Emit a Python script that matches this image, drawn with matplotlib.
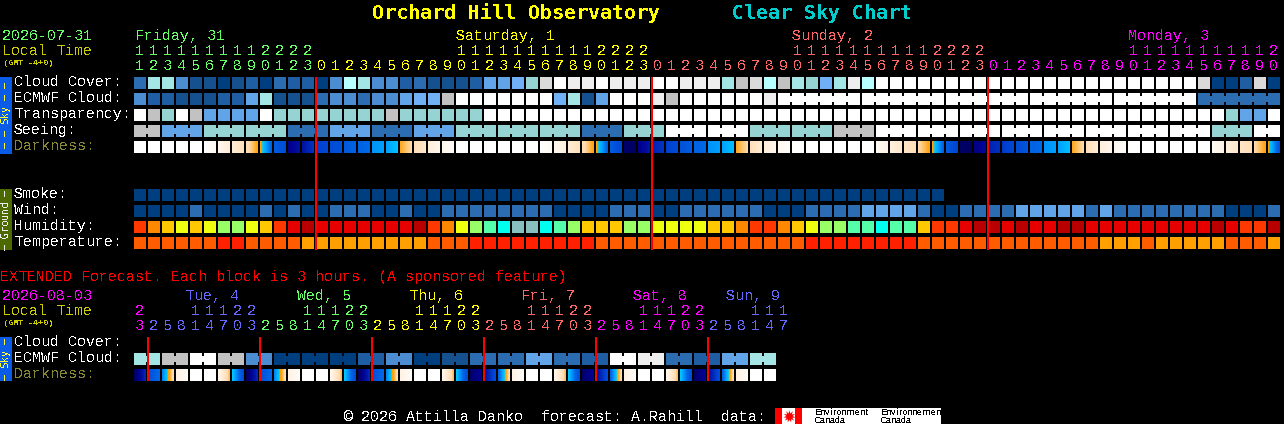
import matplotlib
matplotlib.use("Agg")
import matplotlib.pyplot as plt
from matplotlib.colors import LinearSegmentedColormap
import numpy as np

# pixel look for the text, the original is a bitmap font
plt.rcParams["text.antialiased"] = False
plt.rcParams["text.hinting"] = "auto"
plt.rcParams["text.hinting_factor"] = 1

# ---- forecast blocks, one value per hour ----
hours = [11,12,13,14,15,16,17,18,19,20,21,22,23,
         0,1,2,3,4,5,6,7,8,9,10,11,12,13,14,15,16,17,18,19,20,21,22,23,
         0,1,2,3,4,5,6,7,8,9,10,11,12,13,14,15,16,17,18,19,20,21,22,23,
         0,1,2,3,4,5,6,7,8,9,10,11,12,13,14,15,16,17,18,19,20]
hour_colors = ["day0"]*13 + ["day1"]*24 + ["day2"]*24 + ["day3"]*21
day_names = ["Friday, 31", "Saturday, 1", "Sunday, 2", "Monday, 3"]
day_keys = ["day0", "day1", "day2", "day3"]
day_label_x = [135, 456, 792, 1128]
midnight_cols = [13, 37, 61]

# cloud scale: 0 clear ... 13 overcast
cloud_cover = [10,5,5,9,12,12,13,12,11,13,10,11,11,13,9,4,5,9,9,11,10,
               12,12,12,11,8,8,7,6,2,0,1,1,0,1,1,1,0,0,1,1,1,5,3,2,4,3,5,6,7,5,1,
               4,0,0,0,0,0,0,0,0,0,0,0,0,0,0,0,0,0,0,0,0,0,0,0,2,13,13,11,2,13]
ecmwf_cloud = [9,11,11,12,12,12,11,11,8,5,12,12,12,10,9,9,10,9,9,8,7,
               7,3,0,0,0,0,0,0,0,7,5,12,8,0,0,0,1,3,0,0,0,0,0,0,1,
               0,0,0,0,0,0,0,0,0,0,0,0,0,0,0,0,0,0,0,0,0,0,0,0,0,0,0,0,0,0,
               10,10,10,10,10,10]
ecmwf_groups = [1]*46 + [6]*6
transparency = [0,3,6,0,3,8,8,8,8,0,6,6,6,6,6,6,6,6,3,6,6,6,6,6,6,
                0,0,0,0,0,0,0,0,0,0,0,0,0,0,0,0,0,0,0,0,0,0,0,0,0,0,0,0,0,0,0,0,
                0,0,0,0,0,0,0,0,0,0,0,0,0,0,0,0,0,0,0,0,0,6,8,8,0]
seeing = [3,8,6,6,10,8,10,8,6,6,6,10,6,0,0,6,6,3,0,0,0,0,0,0,0,0,6,0]
seeing_groups = [2] + [3]*26 + [2]

# darkness colour position at the left and right of each block
dark_start = [0,0,0,0,0,0,7,14,22,32,54,92,82,66,60,55,52,44,42,30,22,12,8,
              0,0,0,0,0,0,0,6,14,22,32,54,97,92,76,66,58,52,44,42,30,22,12,6,
              0,0,0,0,0,0,5,12,18,24,32,54,98,93,76,68,60,52,44,42,30,22,12,6,
              0,0,0,0,0,0,5,12,18,24,33]
dark_end = [0,0,0,0,0,6,13,20,31,52,60,82,70,62,58,52,50,42,37,24,16,8,3,
            0,0,0,0,0,0,5,12,20,31,52,62,100,80,70,60,54,50,42,37,24,14,8,2,
            0,0,0,0,0,0,10,16,22,31,52,64,100,86,72,62,56,50,42,37,24,14,8,2,
            0,0,0,0,0,0,10,16,22,31,56]

# ground rows
smoke = [13]*58 + [None]*24
wind = [13,13,13,13,10,13,13,13,13,10,13,10,13,13,10,10,10,13,13,10,13,
        13,10,10,10,10,10,10,10,10,13,13,13,13,10,10,10,13,13,10,10,10,10,10,10,13,13,13,
        10,10,10,10,8,8,8,8,10,13,13,10,10,10,10,8,8,8,8,8,10,8,10,10,10,10,10,10,10,10,13,13,13,10]
humidity = [3,4,5,6,5,6,7,7,6,5,3,2,1,2,2,2,2,2,2,2,1,
            3,4,6,7,8,9,10,10,9,8,7,5,5,5,7,7,6,6,6,6,5,5,4,3,3,4,5,6,7,7,8,
            8,9,8,8,5,3,3,2,1,1,2,1,2,2,1,1,2,2,2,2,2,2,2,2,2,1,2,3,3,1]
temperature = [1,1,1,1,1,1,0,0,1,1,1,1,2,2,2,2,2,2,2,2,2,
               1,1,1,0,0,0,0,0,0,0,0,0,1,1,1,1,1,1,1,1,1,1,1,1,1,1,1,0,0,0,0,
               0,0,0,0,1,1,1,1,1,1,1,1,1,1,1,1,1,2,2,2,1,2,2,2,2,2,1,1,1,2]

# ---- extended forecast, 3 hour blocks ----
ext_hours = [23,2,5,8,11,14,17,20,23,2,5,8,11,14,17,20,23,2,5,8,11,14,17,20,
             23,2,5,8,11,14,17,20,23,2,5,8,11,14,17,20,23,2,5,8,11,14,17]
ext_hour_colors = ["day3"] + ["ext0"]*8 + ["ext1"]*8 + ["ext2"]*8 + ["ext3"]*8 + ["ext4"]*8 + ["ext0"]*6
ext_day_names = ["Tue, 4", "Wed, 5", "Thu, 6", "Fri, 7", "Sat, 8", "Sun, 9"]
ext_day_keys = ["ext0", "ext1", "ext2", "ext3", "ext4", "ext0"]
ext_day_x = [185, 297, 409, 521, 633, 726]
ext_midnight_cols = [1, 9, 17, 25, 33, 41]
ext_ecmwf = [5,3,0,3,9,13,13,13,11,9,13,12,10,10,8,10,11,0,1,10,11,8,5]
ext_groups = [2]*23
ext_dark_start = [100,58,46,10,0,0,6,36, 100,58,46,10,0,0,6,36, 100,58,46,10,0,0,6,36,
                  98,84,52,10,0,0,6,36, 98,84,52,10,0,0,6,36, 98,84,52,10,0,0]
ext_dark_end = [74,50,22,3,0,0,28,60, 74,50,22,3,0,0,28,60, 74,50,22,3,0,0,28,60,
                88,60,22,3,0,0,28,60, 88,60,22,3,0,0,28,60, 88,60,22,3,0,0]

# ---- styles ----
cloud_pal = ["#FFFFFF","#EEEEEE","#DADADA","#C2C2C2","#B8FFFF","#A4E6E6","#96D4D4",
             "#70B0F5","#62A4E8","#4C8CD0","#2C6CB0","#1F5EA2","#15508F","#003F7F"]
temp_pal = ["#FF2000", "#FF5C00", "#FFA000"]
hum_pal = ["", "#B80000", "#E60000", "#FF3800", "#FF8800", "#FFC800", "#EEFF10",
           "#99FF66", "#55FFAA", "#00FFEE", "#88C0C0"]
text_cols = {"day0": "#66FF66", "day1": "#FFFF00", "day2": "#FF6666", "day3": "#FF00FF",
             "ext0": "#6666FF", "ext1": "#66FF66", "ext2": "#FFFF00", "ext3": "#FF6666", "ext4": "#FF00FF"}
dark_stops = [(0, "#FFFFFF"), (8, "#FFF6EA"), (16, "#FFE8CC"), (24, "#FFDCB0"), (30, "#FFA820"),
              (33, "#FFA000"), (36, "#00C8FF"), (42, "#00A0FF"), (50, "#0068E8"), (58, "#0050D8"),
              (66, "#0040D0"), (74, "#0028B8"), (82, "#0010A0"), (90, "#000090"), (100, "#000060")]
dark_cmap = LinearSegmentedColormap.from_list("dark", [(p/100, c) for p, c in dark_stops], N=512)

X0, STEP, CELL = 134, 14, 12
MONO = "Liberation Mono"
FS = 10.8

fig = plt.figure(figsize=(12.84, 4.24), dpi=100, facecolor="black")
ax = fig.add_axes([0, 0, 1, 1])
ax.set_facecolor("black")
ax.axis("off")


def label(x, y, s, color="white", size=FS, **kw):
    kw.setdefault("family", MONO)
    kw.setdefault("va", "baseline")
    ax.text(x, y, s, color=color, fontsize=size, **kw)


def draw_row(y, values, palette):
    for i, v in enumerate(values):
        if v is None:
            continue
        ax.bar(X0 + i*STEP, CELL, width=CELL, bottom=y, color=palette[v], align="edge", linewidth=0, antialiased=False)


def draw_notches(y, values, groups, palette):
    # blocks in the same group are joined by a thinner bridge
    col = 0
    for n in groups:
        for k in range(n - 1):
            ax.bar(X0 + (col + k)*STEP + CELL, CELL - 6, width=STEP - CELL, bottom=y + 3,
                   color=palette[values[col + k]], align="edge", linewidth=0, antialiased=False)
        col += n


def draw_dark(y, starts, ends):
    for i in range(len(starts)):
        grad = np.linspace(starts[i], ends[i], CELL).reshape(1, -1)
        left = X0 + i*STEP
        ax.imshow(grad, cmap=dark_cmap, vmin=0, vmax=100, aspect="auto", interpolation="nearest",
                  extent=(left, left + CELL, y + CELL, y))


def expand(values, groups):
    out = []
    for v, n in zip(values, groups):
        out += [v]*n
    return out


# main table
draw_row(77, cloud_cover, cloud_pal)
draw_row(93, ecmwf_cloud, cloud_pal)
draw_notches(93, ecmwf_cloud, ecmwf_groups, cloud_pal)
draw_row(109, transparency, cloud_pal)
seeing_cols = expand(seeing, seeing_groups)
draw_row(125, seeing_cols, cloud_pal)
draw_notches(125, seeing_cols, seeing_groups, cloud_pal)
draw_dark(141, dark_start, dark_end)

draw_row(189, smoke, cloud_pal)
draw_row(205, wind, cloud_pal)
draw_row(221, humidity, hum_pal)
draw_row(237, temperature, temp_pal)

for c in midnight_cols:
    ax.bar(X0 + c*STEP - 1, 173, width=2, bottom=77, color="#FF0000", align="edge", linewidth=0, antialiased=False, zorder=5)

# extended table
ext_cols = expand(ext_ecmwf, ext_groups)
draw_row(353, ext_cols, cloud_pal)
draw_notches(353, ext_cols, ext_groups, cloud_pal)
draw_dark(369, ext_dark_start, ext_dark_end)
for c in ext_midnight_cols:
    ax.bar(X0 + c*STEP - 1, 44, width=2, bottom=337, color="#FF0000", align="edge", linewidth=0, antialiased=False, zorder=5)

# side bars
ax.bar(0, 77, width=12, bottom=77, color="#0A5CE6", align="edge", linewidth=0)
ax.bar(0, 61, width=12, bottom=189, color="#4D6A00", align="edge", linewidth=0)
ax.bar(0, 44, width=12, bottom=337, color="#0A5CE6", align="edge", linewidth=0)
label(6, 115, "─ ─ Sky ─ ─", "#FFFF33", 7.2, family="DejaVu Sans Mono", rotation=90, ha="center", va="center")
label(6, 219.5, "─ Ground ─", "#EEEEEE", 7.2, family="DejaVu Sans Mono", rotation=90, ha="center", va="center")
label(6, 359, "─ Sky ─", "#FFFF33", 7.2, family="DejaVu Sans Mono", rotation=90, ha="center", va="center")

# titles
label(372, 19, "Orchard Hill Observatory", "#FFFF00", 14.4, family="DejaVu Sans Mono", weight="bold")
label(732, 19, "Clear Sky Chart", "#00CCCC", 14.4, family="DejaVu Sans Mono", weight="bold")

label(2, 40, "2026-07-31", "#66FF66")
label(2, 55, "Local Time", "#CCCC00")
label(3, 65, "(GMT -4+0)", "#CCCC00", 5.6, weight="bold")

for name, key, x in zip(day_names, day_keys, day_label_x):
    label(x, 40, name, text_cols[key])
for i, h in enumerate(hours):
    cx = X0 + i*STEP + 1
    col = text_cols[hour_colors[i]]
    if h >= 10:
        label(cx, 55, str(h // 10), col)
    label(cx, 70, str(h % 10), col)

row_labels = ["Cloud Cover:", "ECMWF Cloud:", "Transparency:", "Seeing:", "Smoke:", "Wind:", "Humidity:", "Temperature:"]
row_base = [86, 102, 118, 134, 198, 214, 230, 246]
for s, y in zip(row_labels, row_base):
    label(14, y, s)
label(14, 150, "Darkness:", "#888833")

label(0, 281, "EXTENDED Forecast. Each block is 3 hours. (A sponsored feature)", "#FF0000")
label(2, 300, "2026-08-03", "#FF00FF")
label(2, 315, "Local Time", "#CCCC00")
label(3, 325, "(GMT -4+0)", "#CCCC00", 5.6, weight="bold")
for name, key, x in zip(ext_day_names, ext_day_keys, ext_day_x):
    label(x, 300, name, text_cols[key])
for i, h in enumerate(ext_hours):
    cx = X0 + i*STEP + 1
    col = text_cols[ext_hour_colors[i]]
    if h >= 10:
        label(cx, 315, str(h // 10), col)
    label(cx, 330, str(h % 10), col)
label(14, 346, "Cloud Cover:")
label(14, 362, "ECMWF Cloud:")
label(14, 378, "Darkness:", "#888833")

# footer and logo
label(343, 421, "© 2026 Attilla Danko  forecast: A.Rahill  data:")
ax.bar(775, 16, width=166, bottom=408, color="white", align="edge", linewidth=0, zorder=2)
ax.bar(775, 16, width=7, bottom=408, color="#FF0000", align="edge", linewidth=0, zorder=3)
ax.bar(795, 16, width=7, bottom=408, color="#FF0000", align="edge", linewidth=0, zorder=3)
ax.plot([788.5], [416], marker=(11, 1, 0), color="#FF0000", markersize=9, markeredgewidth=0, zorder=3)
for x, s in zip([815, 881], ["Environment", "Environnement"]):
    label(x, 415, s, "black", 6.2, family="Liberation Sans", zorder=4)
    label(x, 423, "Canada", "black", 6.2, family="Liberation Sans", zorder=4)

ax.set_xlim(0, 1284)
ax.set_ylim(424, 0)
fig.savefig("out.png", dpi=100, facecolor="black")
